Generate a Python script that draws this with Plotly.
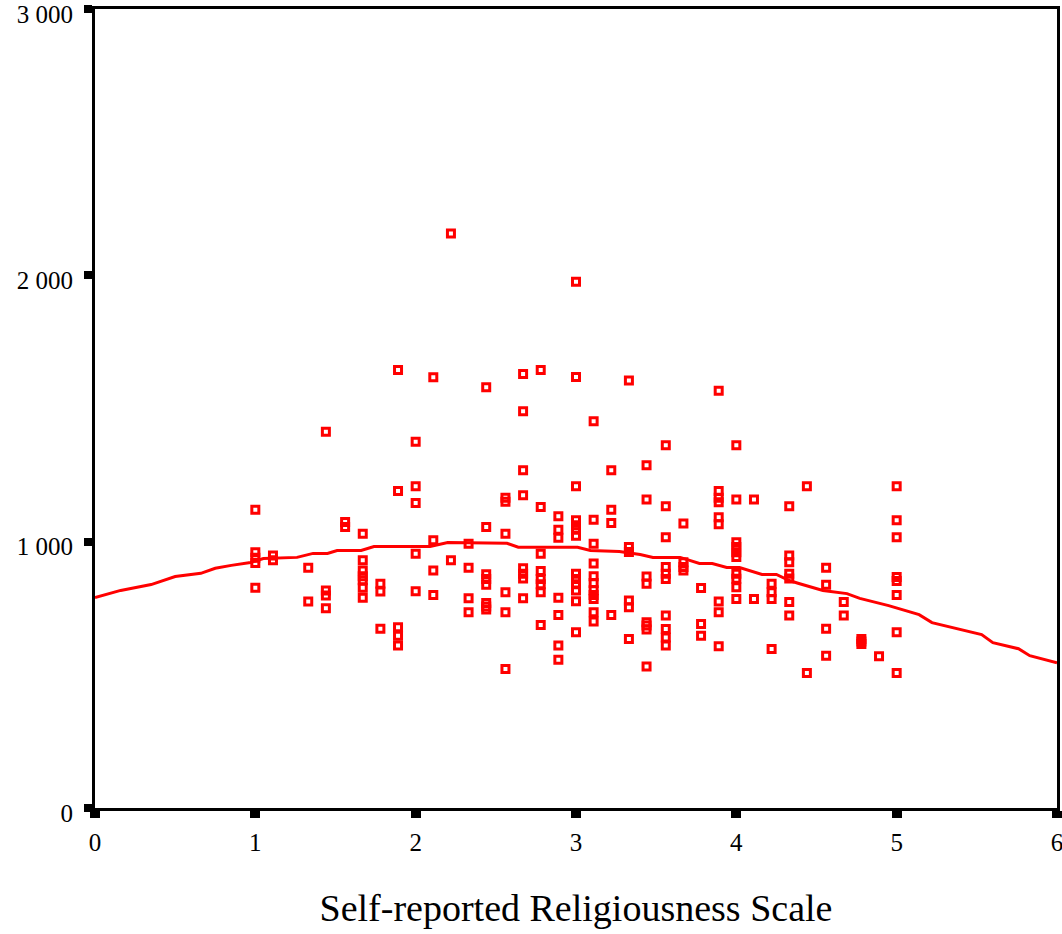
import plotly.graph_objects as go

# Scale scores (columns) and observed values at each score
scores = [1.00, 1.11, 1.33, 1.44, 1.56, 1.67, 1.78, 1.89, 2.00, 2.11, 2.22, 2.33,
          2.44, 2.56, 2.67, 2.78, 2.89, 3.00, 3.11, 3.22, 3.33, 3.44, 3.56, 3.67,
          3.78, 3.89, 4.00, 4.11, 4.22, 4.33, 4.44, 4.56, 4.67, 4.78, 4.89, 5.00]

values_by_score = [
    [1120, 960, 940, 920, 827],
    [948, 930],
    [902, 775],
    [1413, 817, 798, 750],
    [1074, 1055],
    [1030, 930, 892, 870, 855, 827, 789],
    [842, 813, 673],
    [1645, 1190, 679, 647, 610],
    [1375, 1208, 1145, 955, 814],
    [1617, 1005, 892, 800],
    [2157, 930],
    [992, 902, 788, 735],
    [1580, 1055, 878, 860, 838, 770, 757, 745],
    [1165, 1150, 1030, 810, 735, 522],
    [1630, 1490, 1268, 1174, 900, 880, 862, 788],
    [1645, 1130, 955, 890, 860, 840, 810, 687],
    [1095, 1045, 1015, 789, 725, 610, 557],
    [1976, 1618, 1208, 1080, 1062, 1045, 1022, 880, 860, 840, 817, 776, 660],
    [1452, 1082, 992, 918, 870, 845, 818, 800, 785, 735, 700],
    [1268, 1120, 1070, 725],
    [1605, 980, 961, 779, 754, 635],
    [1287, 1158, 869, 842, 697, 685, 670, 531],
    [1362, 1133, 1017, 905, 880, 860, 723, 672, 640, 610],
    [1068, 923, 905, 892],
    [826, 691, 647],
    [1567, 1190, 1165, 1148, 1092, 1065, 775, 735, 607],
    [1362, 1158, 998, 980, 960, 942, 880, 861, 829, 785],
    [1158, 785],
    [842, 810, 785, 597],
    [1133, 948, 923, 880, 862, 773, 723],
    [1208, 507],
    [902, 838, 673, 572],
    [773, 723],
    [635, 625, 616],
    [570],
    [1208, 1080, 1017, 867, 852, 800, 660, 507],
]

# Smoothed fit line
fit_x = [0.00, 0.16, 0.35, 0.50, 0.66, 0.75, 0.85, 0.97, 1.05, 1.26, 1.36, 1.45,
         1.51, 1.66, 1.74, 2.09, 2.20, 2.57, 2.64, 3.01, 3.09, 3.27, 3.40, 3.48,
         3.65, 3.77, 3.85, 3.94, 4.02, 4.16, 4.25, 4.33, 4.39, 4.54, 4.69, 4.77,
         4.95, 5.14, 5.22, 5.37, 5.53, 5.60, 5.76, 5.83, 6.00]
fit_y = [790, 817, 839, 869, 881, 900, 911, 922, 937, 941, 956, 956,
         967, 967, 982, 982, 997, 994, 979, 979, 967, 963, 952, 941,
         941, 918, 918, 903, 903, 877, 877, 854, 843, 817, 805, 787,
         760, 726, 696, 674, 651, 621, 598, 572, 545]

x_ticks = [0, 1, 2, 3, 4, 5, 6]
y_ticks = [0, 1000, 2000, 3000]
y_tick_text = ["0", "1 000", "2 000", "3 000"]
x_title = "Self-reported Religiousness Scale"

pts_x, pts_y = [], []
for s, vals in zip(scores, values_by_score):
    for v in vals:
        pts_x.append(s)
        pts_y.append(v)

RED = "#ff0000"
FONT = "Liberation Serif"

fig = go.Figure()
fig.add_trace(go.Scatter(
    x=fit_x, y=fit_y, mode="lines",
    line=dict(color=RED, width=3), hoverinfo="skip", showlegend=False,
))
fig.add_trace(go.Scatter(
    x=pts_x, y=pts_y, mode="markers",
    marker=dict(symbol="square-open", size=7, color=RED, line=dict(color=RED, width=3)),
    showlegend=False,
))

fig.update_layout(
    width=1062, height=934, autosize=False,
    margin=dict(l=95, r=5, t=9, b=126, autoexpand=False),
    paper_bgcolor="white", plot_bgcolor="white",
    font=dict(family=FONT, color="black", size=25),
)
fig.update_xaxes(
    range=[0, 6], tickvals=x_ticks, showgrid=False, zeroline=False, automargin=False,
    showline=True, linecolor="black", linewidth=3, mirror=True,
    ticks="outside", ticklen=7, tickwidth=10, tickcolor="black",
    ticklabelstandoff=3, ticklabeloverflow="allow",
    tickfont=dict(family=FONT, size=25, color="black"),
    title=dict(text=x_title, font=dict(family=FONT, size=38, color="black"), standoff=40),
)
fig.update_yaxes(
    range=[0, 3000], tickvals=y_ticks, ticktext=y_tick_text, showgrid=False, zeroline=False,
    automargin=False,
    showline=True, linecolor="black", linewidth=3, mirror=True,
    ticks="outside", ticklen=8, tickwidth=8, tickcolor="black",
    ticklabelstandoff=6, ticklabelshift=5, ticklabeloverflow="allow",
    tickfont=dict(family=FONT, size=25, color="black"),
)

fig.write_html(
    "out.html",
    config={"displayModeBar": False},
    post_script="document.body.style.margin='0';document.body.style.overflow='hidden';",
)
